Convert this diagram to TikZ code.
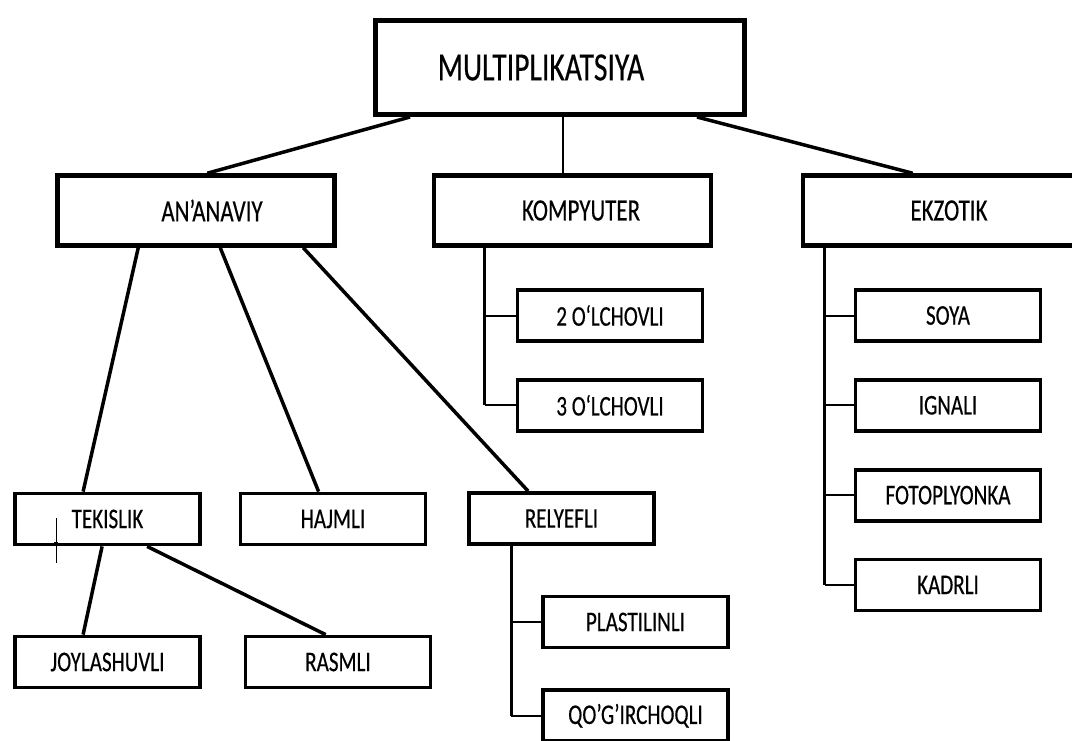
\documentclass[tikz,border=0pt]{standalone}
\usepackage{fontspec}
\setmainfont{Carlito}[FakeStretch=0.74, FakeBold=0.4]
\usetikzlibrary{positioning}
\tikzset{
    rootbox/.style={
        draw,
        rectangle,
        line width=5pt,
        minimum width=369pt,
        minimum height=94pt,
        inner sep=0pt,
        font=\fontsize{40}{44}\selectfont
    },
    catbox/.style={
        draw,
        rectangle,
        line width=4.5pt,
        minimum width=277pt,
        minimum height=70pt,
        inner sep=0pt,
        font=\fontsize{31}{34}\selectfont
    },
    leafbox/.style={
        draw,
        rectangle,
        line width=3.8pt,
        minimum width=185pt,
        minimum height=51pt,
        inner sep=0pt,
        font=\fontsize{28.5}{31}\selectfont
    },
    link/.style={
        line width=3.5pt
    },
    bus/.style={
        line width=2.8pt
    },
    tick/.style={
        line width=2pt
    }
}

\begin{document}
\begin{tikzpicture}[
    x=1pt,
    y=-1pt,
    node distance=35pt
]
\useasboundingbox (0,0) rectangle (1072,740);
\clip (0,0) rectangle (1072,740);
\fill[white] (0,0) rectangle (1072,740);

\node[rootbox] (root) at (560,67.5) {\hspace*{-38pt}MULTIPLIKATSIYA};
\node[catbox] (ananaviy) at (196,210.5) {\hspace*{32pt}AN’ANAVIY};
\node[catbox] (kompyuter) at (572.5,210.5) {\hspace*{17pt}KOMPYUTER};
\node[catbox] (ekzotik) at (941.5,210.5) {\hspace*{15pt}EKZOTIK};

\node[leafbox] (tekislik) at (107.5,519) {TEKISLIK};
\node[leafbox] (hajmli) at (333,519) {HAJMLI};
\node[leafbox] (relyefli) at (561.5,518.5) {RELYEFLI};
\node[leafbox] (joylashuvli) at (107.5,662) {JOYLASHUVLI};
\node[leafbox] (rasmli) at (338,662) {RASMLI};

\node[leafbox] (olchov2) at (610,315.5) {2 O‘LCHOVLI};
\node[leafbox, below=of olchov2] (olchov3) {3 O‘LCHOVLI};

\node[leafbox] (plastilinli) at (635.5,622) {PLASTILINLI};
\node[leafbox, below=39pt of plastilinli] (qogirchoqli) {QO’G’IRCHOQLI};

\node[leafbox] (soya) at (948,315.5) {SOYA};
\node[leafbox, below=of soya] (ignali) {IGNALI};
\node[leafbox, below=of ignali] (fotoplyonka) {FOTOPLYONKA};
\node[leafbox, below=of fotoplyonka] (kadrli) {KADRLI};

\draw[link] ([xshift=37pt]root.south west) -- ([xshift=152pt]ananaviy.north west);
\draw[bus] ([xshift=3pt]root.south) -- ([xshift=-9.5pt]kompyuter.north);
\draw[link] ([xshift=-50pt]root.south east) -- ([xshift=112pt]ekzotik.north west);

\draw[link] ([xshift=83pt]ananaviy.south west) -- ([xshift=70pt]tekislik.north west);
\draw[link] ([xshift=165pt]ananaviy.south west) -- ([xshift=80pt]hajmli.north west);
\draw[link] ([xshift=248pt]ananaviy.south west) -- ([xshift=61pt]relyefli.north west);
\draw[link] ([xshift=89pt]tekislik.south west) -- ([xshift=70pt]joylashuvli.north west);
\draw[link] ([xshift=134pt]tekislik.south west) -- ([xshift=82pt]rasmli.north west);

\coordinate (kbus) at ([xshift=53pt]kompyuter.south west);
\draw[bus] (kbus) -- (kbus |- olchov3.west);
\draw[tick] (kbus |- olchov2.west) -- (olchov2.west);
\draw[tick] (kbus |- olchov3.west) -- (olchov3.west);

\coordinate (rbus) at ([xshift=44pt]relyefli.south west);
\draw[bus] (rbus) -- (rbus |- qogirchoqli.west);
\draw[tick] (rbus |- plastilinli.west) -- (plastilinli.west);
\draw[tick] (rbus |- qogirchoqli.west) -- (qogirchoqli.west);

\coordinate (ebus) at ([xshift=24pt]ekzotik.south west);
\draw[bus] (ebus) -- (ebus |- kadrli.west);
\draw[tick] (ebus |- soya.west) -- (soya.west);
\draw[tick] (ebus |- ignali.west) -- (ignali.west);
\draw[tick] (ebus |- fotoplyonka.west) -- (fotoplyonka.west);
\draw[tick] (ebus |- kadrli.west) -- (kadrli.west);

\draw[line width=1pt] (56,518) -- (56,563);
\draw[line width=1pt] (54,542) -- (58,542);

\end{tikzpicture}
\end{document}
